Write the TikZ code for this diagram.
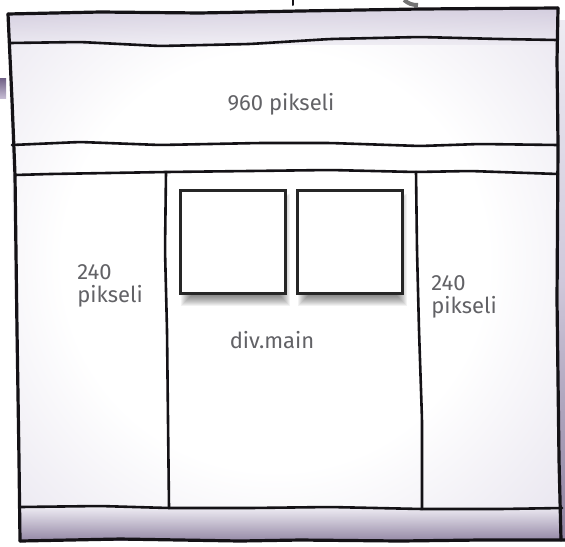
\documentclass[tikz,border=0pt]{standalone}
\usepackage{fontspec}
\setmainfont{Fira Sans}

\definecolor{lavlight}{RGB}{234,231,240}
\definecolor{lavmid}{RGB}{196,187,210}
\definecolor{lavdark}{RGB}{112,96,134}
\definecolor{inkgray}{RGB}{98,98,102}
\definecolor{penblack}{RGB}{20,18,22}
\pgfdeclareradialshading{pagevignette}{\pgfpoint{0bp}{0bp}}{color(0bp)=(white); color(18bp)=(white); color(32bp)=(lavlight); color(43bp)=(lavmid); color(52bp)=(lavdark); color(72bp)=(lavdark)}

\begin{document}
\begin{tikzpicture}[x=0.5pt,y=-0.5pt]
\tikzset{
  penline/.style={draw=penblack,line width=1.3pt,line cap=round,line join=round,rounded corners=3pt},
  framepen/.style={penline,line width=1.6pt},
  winbox/.style={rectangle,draw=black!85,line width=1.5pt,fill=white,minimum width=52.5pt,minimum height=51.5pt,inner sep=0pt},
  shadowlayer/.style={fill=black,opacity=.05},
  handtext/.style={text=inkgray,font=\fontsize{11}{11.5}\selectfont,inner sep=0pt}
}
\useasboundingbox (0,0) rectangle (565,546);
\fill[white] (0,0) rectangle (565,546);

% corners of the sketched page
\coordinate (tl) at (8,14);
\coordinate (tr) at (558,8);
\coordinate (br) at (561,540);
\coordinate (bl) at (20,541);
% ends of the column dividers
\coordinate (dl_t) at (166,172);
\coordinate (dl_b) at (169,508);
\coordinate (dr_t) at (416,172);
\coordinate (dr_b) at (422,509);

% wash
\begin{scope}
\clip (tl) -- (tr) -- (br) -- (bl) -- cycle;
\shade[shading=pagevignette] (-20,-30) rectangle (570,552);
\shade[top color=lavmid,bottom color=lavlight,opacity=.7] (0,0) rectangle (565,44);
\shade[top color=lavlight,bottom color=lavdark,opacity=.8] (0,508) rectangle (565,545);
\end{scope}
\shade[top color=lavlight,bottom color=lavdark,middle color=lavmid,opacity=.8] (559,20) rectangle (565,540);

% bits of the next sketch
\shade[top color=lavdark,bottom color=lavmid] (0,78) rectangle (6,98);
\draw[penline,line width=1pt] (293,0) -- (293,5);
\draw[line width=2pt,draw=black!55] (404,0) to[bend right=20] (418,5);

% outer frame
\draw[framepen] (tl) -- (100,12) -- (200,13) -- (300,11) -- (420,9) -- (tr);
\draw[framepen] (tr) -- (557,60) -- (558,145) -- (557,300) -- (559,460) -- (br);
\draw[framepen] (tl) -- (12,100) -- (15,175) -- (17,330) -- (19,460) -- (bl);
\draw[framepen] (bl) -- (120,539) -- (240,541) -- (300,540) -- (400,541) -- (480,540) -- (565,540);

% bands
\draw[penline] (10,43) -- (80,42) -- (160,46) -- (250,44) -- (330,39) -- (420,37) -- (500,39) -- (557,40);
\draw[penline] (12,145) -- (80,142) -- (160,145) -- (260,143) -- (330,143) -- (420,146) -- (480,144) -- (558,145);
\draw[penline] (15,175) -- (50,174) -- (dl_t) -- (250,171) -- (330,170) -- (dr_t) -- (470,171) -- (558,174);
\draw[penline] (20,507) -- (100,506) -- (dl_b) -- (250,508) -- (330,507) -- (dr_b) -- (500,509) -- (562,508);

% columns
\draw[penline] (dl_t) -- (165,250) -- (167,330) -- (168,420) -- (dl_b);
\draw[penline] (dr_t) -- (417,250) -- (419,330) -- (422,420) -- (dr_b);

% soft shadows under the two boxes
\foreach \bx in {180,297}
  \foreach \g in {0,...,10}
    \fill[shadowlayer] (\bx+11-\g,204-\g) rectangle (\bx+100+\g,296+\g);

\node[winbox] (leftbox) at (232.5,241.5) {};
\node[winbox] (rightbox) at (349.5,241.5) {};

\node[handtext] (pagewidth) at (281,104) {960 pikseli};
\node[handtext,align=left,anchor=west] (leftcol) at (77,286) {240\\pikseli};
\node[handtext,align=left,anchor=west] (rightcol) at (431,297) {240\\pikseli};
\node[handtext] (maincol) at (272,340) {div.main};
\end{tikzpicture}
\end{document}
